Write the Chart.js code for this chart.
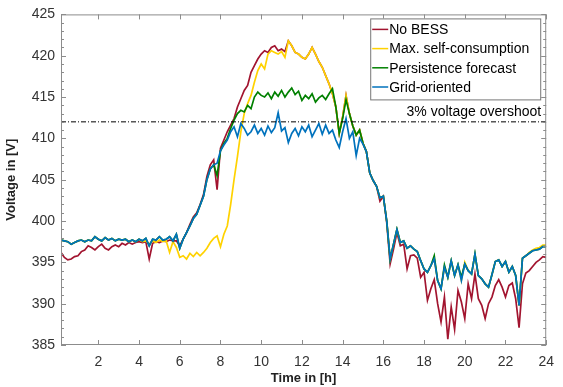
<!DOCTYPE html>
<html>
  <head>
    <title>Voltage profile</title>
    <script src="https://cdn.jsdelivr.net/npm/chart.js@4/dist/chart.umd.min.js"></script>
    <style>
      body {
        margin: 0;
        background: #fff;
        font-family: Arial, "Liberation Sans", sans-serif;
      }

      .chart-box {
        width: 563px;
        height: 387px;
      }
    </style>
  </head>
  <body>
    <div class="chart-box">
      <canvas id="voltage-chart"></canvas>
    </div>

    <script>
      // 10 minute samples, one row per hour (first value of a row is hh:10)
      const noBess = [
        396.2, 395.6, 395.3, 395.4, 395.7, 395.8,
        396.3, 396.5, 397.0, 396.8, 396.5, 396.9,
        397.2, 396.7, 396.5, 396.9, 397.1, 396.9,
        397.3, 397.1, 397.4, 397.2, 397.4, 397.5,
        397.4, 397.5, 395.4, 397.3, 397.5, 397.4,
        397.6, 397.5, 397.7, 397.6, 397.6, 397.0,
        397.8, 398.6, 399.6, 400.5, 401.0, 402.0,
        403.2, 405.4, 406.8, 407.4, 403.8, 408.8,
        409.8, 410.8, 411.6, 412.4, 413.8, 414.8,
        415.8, 416.4, 418.0, 418.8, 419.6, 420.2,
        420.6, 420.4, 421.0, 421.2, 420.6, 420.8,
        420.5, 421.8, 421.2, 420.4, 420.2, 419.8,
        419.6, 420.2, 421.0, 420.2, 419.3, 418.6,
        417.6, 416.6, 415.4, 413.8, 410.6, 412.6,
        415.2, 413.0, 411.5, 410.4, 411.0, 409.4,
        408.4, 405.8, 404.9, 404.2, 402.4, 403.0,
        399.8, 394.8, 396.6, 398.6, 397.0, 397.2,
        394.2, 395.8, 395.9, 395.5, 393.2, 393.8,
        390.4, 391.8, 392.9, 390.0, 387.8, 390.8,
        385.7, 389.6, 386.9, 391.6, 390.2, 388.2,
        392.4, 390.6, 393.6, 390.6, 389.8, 388.2,
        390.0, 390.8, 392.2, 392.9, 392.0, 390.8,
        392.2, 392.5, 390.6, 387.1, 392.4, 393.7,
        394.0, 394.5, 395.0, 395.3, 395.7, 395.6
      ];

      const maxSelfConsumption = [
        397.7, 397.6, 397.5, 397.2, 397.4, 397.6,
        397.7, 397.5, 397.7, 397.6, 398.1, 397.8,
        397.6, 398.0, 397.7, 397.9, 397.6, 397.8,
        397.7, 397.8, 397.5, 397.7, 397.5, 397.8,
        397.5, 397.6, 397.2, 397.6, 397.4, 397.7,
        397.5, 397.6, 396.2, 397.5, 396.8, 395.6,
        395.8, 395.4, 396.1, 395.7, 396.2, 395.8,
        396.2, 396.7, 397.4, 397.9, 398.2, 396.9,
        398.4, 399.4, 402.0, 405.0, 407.8, 410.8,
        413.0, 414.2, 415.2, 416.8, 418.2, 419.0,
        418.4, 420.2, 420.6, 420.4, 420.2, 420.5,
        419.8, 421.8, 421.2, 420.4, 420.2, 419.8,
        419.6, 420.2, 421.0, 420.2, 419.3, 418.6,
        417.6, 416.6, 415.4, 413.8, 410.6, 412.6,
        415.2, 413.0, 411.5, 410.4, 411.0, 409.4,
        408.4, 405.8, 404.9, 404.2, 402.8, 403.0,
        400.0, 395.4, 397.2, 399.0, 397.4, 397.6,
        396.7, 397.0, 396.6, 396.3, 395.2, 394.2,
        393.8, 394.6, 395.4, 392.8, 391.8, 394.4,
        393.2, 395.2, 393.4, 394.7, 392.8, 395.0,
        394.0, 393.6, 396.0, 393.4, 393.0, 392.4,
        392.0, 393.5, 395.1, 395.3, 394.5, 395.1,
        393.8, 394.5, 393.4, 389.8, 395.5, 395.8,
        396.2, 396.5, 396.7, 396.8, 397.1, 397.1
      ];

      const persistenceForecast = [
        397.7, 397.6, 397.5, 397.2, 397.4, 397.6,
        397.7, 397.5, 397.7, 397.6, 398.1, 397.8,
        397.6, 398.0, 397.7, 397.9, 397.6, 397.8,
        397.7, 397.8, 397.5, 397.7, 397.5, 397.8,
        397.6, 397.9, 397.0, 397.8, 397.7, 398.1,
        397.7, 397.8, 398.1, 397.6, 398.4, 396.7,
        397.8, 398.6, 399.4, 400.3, 400.8, 401.9,
        403.0, 405.0, 406.3, 406.8, 405.5, 408.5,
        409.4, 410.0, 411.2, 412.2, 413.0, 413.4,
        413.2, 414.0, 413.6, 415.0, 415.6, 415.2,
        415.0, 415.5, 414.8, 415.6, 415.1, 415.8,
        415.0, 415.6, 416.1, 415.3, 415.7, 414.6,
        415.2, 414.8, 415.4, 414.4, 414.9, 415.2,
        414.7, 415.4, 416.0, 413.8, 410.6, 412.4,
        414.7, 413.0, 411.5, 410.4, 411.0, 409.4,
        408.4, 405.8, 404.9, 404.2, 402.8, 403.0,
        400.0, 395.4, 397.2, 399.0, 397.4, 397.6,
        396.7, 397.0, 396.6, 396.3, 395.2, 394.2,
        393.8, 394.6, 395.8, 392.8, 391.8, 394.7,
        393.2, 395.2, 393.4, 394.7, 393.2, 394.8,
        394.0, 393.6, 396.0, 393.4, 393.0, 392.4,
        392.0, 393.5, 395.1, 395.3, 394.5, 395.1,
        393.8, 394.5, 393.4, 389.8, 395.5, 395.8,
        396.1, 396.4, 396.5, 396.6, 396.9, 396.9
      ];

      const gridOriented = [
        397.7, 397.6, 397.5, 397.2, 397.4, 397.6,
        397.7, 397.5, 397.7, 397.6, 398.1, 397.8,
        397.6, 398.0, 397.7, 397.9, 397.6, 397.8,
        397.7, 397.8, 397.5, 397.7, 397.5, 397.8,
        397.6, 397.9, 397.0, 397.8, 397.7, 398.1,
        397.7, 397.8, 398.1, 397.6, 398.4, 396.7,
        397.8, 398.6, 399.4, 400.3, 400.8, 401.9,
        403.0, 405.0, 406.3, 406.8, 407.0, 408.5,
        409.2, 409.8, 410.8, 411.4, 410.2, 411.8,
        411.2, 410.4, 410.8, 411.6, 410.6, 411.2,
        410.4, 411.5, 410.7, 411.3, 413.1, 410.9,
        411.3, 409.5, 410.6, 411.2, 410.3, 411.4,
        410.8, 411.6, 410.2, 411.0, 411.8, 410.5,
        411.6, 410.6, 411.0, 409.8, 408.9, 410.8,
        412.4, 410.0, 410.8, 407.9, 410.0, 409.3,
        408.4, 405.8, 404.9, 404.2, 402.8, 403.0,
        400.0, 395.4, 397.2, 399.0, 397.4, 397.6,
        396.7, 397.0, 396.6, 396.3, 395.2, 394.2,
        393.8, 394.6, 395.4, 392.8, 391.8, 394.4,
        393.2, 395.2, 393.4, 394.7, 392.8, 394.8,
        394.0, 393.6, 396.0, 393.4, 393.0, 392.4,
        392.0, 393.5, 395.1, 395.3, 394.5, 395.1,
        393.8, 394.5, 393.4, 389.8, 395.5, 395.8,
        396.1, 396.4, 396.5, 396.6, 396.9, 396.9
      ];

      const overshootLimit = 412;
      const xTicks = [2, 4, 6, 8, 10, 12, 14, 16, 18, 20, 22, 24];
      const seriesNames = ["No BESS", "Max. self-consumption", "Persistence forecast", "Grid-oriented"];
      const seriesColors = ["#a2142f", "#ffd200", "#008000", "#0072bd"];

      const hours = noBess.map((v, i) => (i + 1) / 6);
      const toPoints = (values) => values.map((v, i) => ({ x: hours[i], y: v }));

      const FONT = "Arial, 'Liberation Sans', sans-serif";
      const AXIS_GRAY = "#8c8c8c";

      // MATLAB-like box: frame, inward ticks, legend and limit label
      const matlabBox = {
        id: "matlabBox",
        afterDraw(chart) {
          const { ctx, chartArea: a, scales } = chart;
          const x = scales.x;
          const y = scales.y;
          ctx.save();
          ctx.strokeStyle = AXIS_GRAY;
          ctx.lineWidth = 1;
          ctx.strokeRect(a.left + 0.5, a.top + 0.5, a.width - 1, a.height - 1);

          ctx.beginPath();
          xTicks.forEach((v) => {
            const px = Math.round(x.getPixelForValue(v)) + 0.5;
            ctx.moveTo(px, a.bottom);
            ctx.lineTo(px, a.bottom - 5);
            ctx.moveTo(px, a.top);
            ctx.lineTo(px, a.top + 5);
          });
          for (let v = y.min; v <= y.max; v += 1) {
            const py = Math.round(y.getPixelForValue(v)) + 0.5;
            const len = v % 5 === 0 ? 5 : 3;
            ctx.moveTo(a.left, py);
            ctx.lineTo(a.left + len, py);
            ctx.moveTo(a.right, py);
            ctx.lineTo(a.right - len, py);
          }
          ctx.stroke();

          // limit label
          ctx.fillStyle = "#000";
          ctx.font = "14px " + FONT;
          ctx.textAlign = "right";
          ctx.textBaseline = "alphabetic";
          ctx.fillText("3% voltage overshoot", a.right - 5, y.getPixelForValue(overshootLimit) - 6);

          // legend
          const w = 170, h = 81;
          const lx = a.right - 6 - w;
          const ly = a.top + 4;
          ctx.fillStyle = "#fff";
          ctx.fillRect(lx, ly, w, h);
          ctx.strokeStyle = "#777";
          ctx.strokeRect(lx + 0.5, ly + 0.5, w, h);
          ctx.textAlign = "left";
          ctx.textBaseline = "middle";
          seriesNames.forEach((name, i) => {
            const ry = ly + 11 + i * 19.2;
            ctx.strokeStyle = seriesColors[i];
            ctx.lineWidth = 1.5;
            ctx.beginPath();
            ctx.moveTo(lx + 2, ry);
            ctx.lineTo(lx + 18, ry);
            ctx.stroke();
            ctx.fillStyle = "#000";
            ctx.fillText(name, lx + 19, ry + 1);
          });
          ctx.restore();
        },
      };

      const makeLine = (label, values, color, order) => ({
        label: label,
        data: toPoints(values),
        borderColor: color,
        backgroundColor: color,
        borderWidth: 1.7,
        pointRadius: 0,
        tension: 0,
        order: order,
      });

      new Chart("voltage-chart", {
        type: "line",
        data: {
          datasets: [
            {
              label: "3% voltage overshoot",
              data: [
                { x: hours[0], y: overshootLimit },
                { x: hours[hours.length - 1], y: overshootLimit },
              ],
              borderColor: "#000",
              borderWidth: 1,
              borderDash: [5, 2, 1, 2],
              pointRadius: 0,
              order: 0,
            },
            makeLine(seriesNames[3], gridOriented, seriesColors[3], 1),
            makeLine(seriesNames[2], persistenceForecast, seriesColors[2], 2),
            makeLine(seriesNames[1], maxSelfConsumption, seriesColors[1], 3),
            makeLine(seriesNames[0], noBess, seriesColors[0], 4),
          ],
        },
        options: {
          responsive: true,
          maintainAspectRatio: false,
          animation: false,
          layout: { padding: { left: 0, right: 8, top: 14, bottom: 0 } },
          plugins: {
            legend: { display: false },
            tooltip: { enabled: false },
          },
          scales: {
            x: {
              type: "linear",
              min: hours[0],
              max: 24,
              afterBuildTicks: (s) => {
                s.ticks = xTicks.map((v) => ({ value: v }));
              },
              afterFit: (s) => {
                s.height = 42;
              },
              grid: { display: false, drawTicks: false },
              border: { display: false },
              ticks: {
                padding: 9,
                color: "#333",
                font: { family: FONT, size: 14 },
              },
              title: {
                display: true,
                text: "Time in [h]",
                color: "#222",
                padding: { top: 0, bottom: 1 },
                font: { family: FONT, size: 13, weight: "bold" },
              },
            },
            y: {
              min: 385,
              max: 425,
              afterFit: (s) => {
                s.width = 61;
              },
              grid: { display: false, drawTicks: false },
              border: { display: false },
              ticks: {
                stepSize: 5,
                padding: 6,
                color: "#333",
                font: { family: FONT, size: 14 },
              },
              title: {
                display: true,
                text: "Voltage in [V]",
                color: "#222",
                padding: { top: 4, bottom: 0 },
                font: { family: FONT, size: 13, weight: "bold" },
              },
            },
          },
        },
        plugins: [matlabBox],
      });
    </script>
  </body>
</html>
